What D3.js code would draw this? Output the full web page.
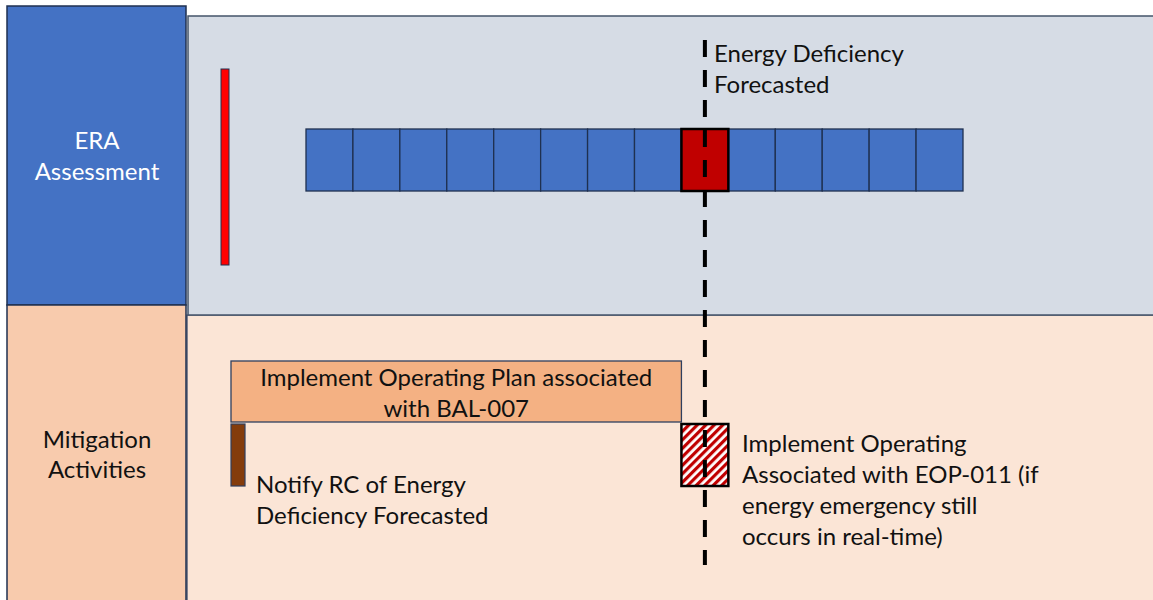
<html>
<head>
<script src="https://d3js.org/d3.v7.min.js"></script>
<style>
  body { margin: 0; background: #fff; }
  text { font-family: Lato, "Open Sans", sans-serif; font-size: 24px; }
</style>
</head>
<body>
<svg id="chart" width="1153" height="600"></svg>
<script>
// rows of the chart
var rows = ["ERA Assessment", "Mitigation Activities"];
var rowLines = [["ERA", "Assessment"], ["Mitigation", "Activities"]];

// assessment blocks of the study horizon, one marked as deficient
var blocks = ["ok","ok","ok","ok","ok","ok","ok","ok","deficient","ok","ok","ok","ok","ok"];
var deficientIndex = 8;

var eventLabel = ["Energy Deficiency", "Forecasted"];
var planLabel = ["Implement Operating Plan associated", "with BAL-007"];
var notifyLabel = ["Notify RC of Energy", "Deficiency Forecasted"];
var eopLabel = ["Implement Operating", "Associated with EOP-011 (if", "energy emergency still", "occurs in real-time)"];

var svg = d3.select("#chart");
var W = 1153, H = 600;

// hatch pattern
var defs = svg.append("defs");
var pat = defs.append("pattern").attr("id", "hatch").attr("patternUnits", "userSpaceOnUse")
  .attr("width", 6).attr("height", 6).attr("patternTransform", "rotate(45)");
pat.append("rect").attr("width", 6).attr("height", 6).attr("fill", "#fff");
pat.append("rect").attr("width", 3.2).attr("height", 6).attr("fill", "#C00000");

var x = d3.scaleBand().domain(d3.range(blocks.length)).range([306, 963]).padding(0);
var y = d3.scaleOrdinal().domain(rows).range([[6, 305], [305, 600]]);

// right backgrounds
svg.append("rect").attr("x", 187).attr("y", 315).attr("width", W - 187 + 5).attr("height", 300)
  .attr("fill", "#FBE5D6").attr("stroke", "#2F3F5F").attr("stroke-width", 1.2);
svg.append("rect").attr("x", 188).attr("y", 16).attr("width", W - 188 + 5).attr("height", 299)
  .attr("fill", "#D6DCE5").attr("stroke", "#44546A").attr("stroke-width", 1.5);

// left row headers
var fills = ["#4472C4", "#F8CBAD"];
var txtc = ["#fff", "#111"];
rows.forEach(function(r, i) {
  var yy = y(r);
  svg.append("rect").attr("x", 7).attr("y", yy[0]).attr("width", 179).attr("height", (i == 1 ? 310 : yy[1] - yy[0]))
    .attr("fill", fills[i]).attr("stroke", "#1F3050").attr("stroke-width", 1.5);
});
var labY = [[141, 172], [440, 470]];
rowLines.forEach(function(lines, i) {
  svg.append("text").attr("x", 97).attr("text-anchor", "middle").attr("fill", txtc[i])
    .selectAll("tspan").data(lines).enter().append("tspan")
    .attr("x", 97).attr("y", function(d, j) { return labY[i][j] + 8; }).text(function(d) { return d; });
});

// red ERA start bar
svg.append("rect").attr("x", 221).attr("y", 69).attr("width", 8).attr("height", 196)
  .attr("fill", "#FF0000").attr("stroke", "#1F3050").attr("stroke-width", 1);

// blocks
svg.selectAll("rect.block").data(blocks).enter().append("rect").attr("class", "block")
  .attr("x", function(d, i) { return x(i); }).attr("y", 129)
  .attr("width", x.bandwidth()).attr("height", 62)
  .attr("fill", function(d) { return d == "deficient" ? "#C00000" : "#4472C4"; })
  .attr("stroke", function(d) { return d == "deficient" ? "#000" : "#1F3050"; })
  .attr("stroke-width", function(d) { return d == "deficient" ? 2.5 : 1.3; });
svg.selectAll("rect.block").filter(function(d) { return d == "deficient"; }).raise();

// plan box
svg.append("rect").attr("x", x(0) - 75).attr("y", 361).attr("width", x(deficientIndex) - x(0) + 75).attr("height", 61)
  .attr("fill", "#F4B183").attr("stroke", "#2F3F5F").attr("stroke-width", 1.3);
var planCx = (x(0) - 75 + x(deficientIndex)) / 2;
svg.append("text").attr("text-anchor", "middle").attr("fill", "#111")
  .selectAll("tspan").data(planLabel).enter().append("tspan")
  .attr("x", planCx).attr("y", function(d, j) { return 386 + j * 31; }).text(function(d) { return d; });

// notify bar
svg.append("rect").attr("x", 231).attr("y", 424).attr("width", 14).attr("height", 62)
  .attr("fill", "#843C0C").attr("stroke", "#2F3F5F").attr("stroke-width", 1.2);
svg.append("text").attr("fill", "#111")
  .selectAll("tspan").data(notifyLabel).enter().append("tspan")
  .attr("x", 256).attr("y", function(d, j) { return 493 + j * 31; }).text(function(d) { return d; });

// hatched EOP box
svg.append("rect").attr("x", x(deficientIndex)).attr("y", 424).attr("width", x.bandwidth()).attr("height", 62)
  .attr("fill", "url(#hatch)").attr("stroke", "#000").attr("stroke-width", 2.5);
svg.append("text").attr("fill", "#111")
  .selectAll("tspan").data(eopLabel).enter().append("tspan")
  .attr("x", 742).attr("y", function(d, j) { return 452 + j * 31; }).text(function(d) { return d; });

// dashed event line
var lx = x(deficientIndex) + x.bandwidth() / 2;
svg.append("line").attr("x1", lx).attr("x2", lx).attr("y1", 40).attr("y2", 565)
  .attr("stroke", "#000").attr("stroke-width", 4).attr("stroke-dasharray", "17,13");

svg.append("text").attr("fill", "#111")
  .selectAll("tspan").data(eventLabel).enter().append("tspan")
  .attr("x", 714).attr("y", function(d, j) { return 62 + j * 31; }).text(function(d) { return d; });
</script>
</body>
</html>
